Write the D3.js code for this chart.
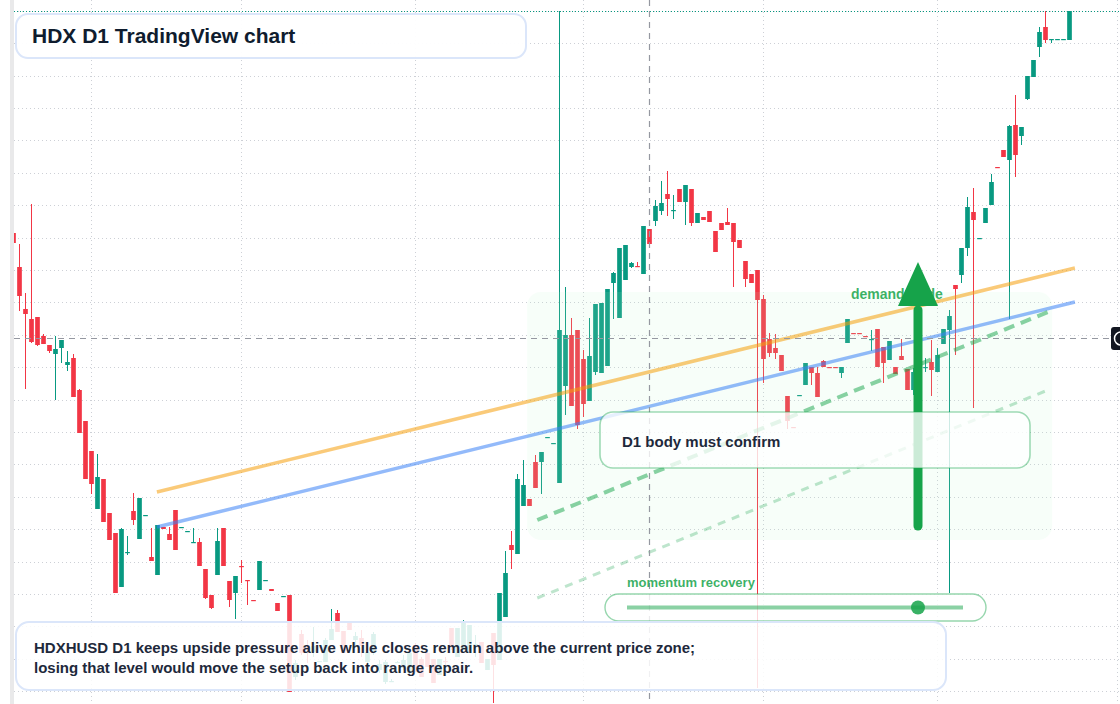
<!DOCTYPE html>
<html>
<head>
<meta charset="utf-8">
<script src="https://cdn.jsdelivr.net/npm/d3@7/dist/d3.min.js"></script>
<style>
  html, body { margin: 0; padding: 0; background: #ffffff; }
  svg { display: block; font-family: "Liberation Sans", Arial, Helvetica, sans-serif; }
</style>
</head>
<body>
<div id="chart"></div>
<script>
// HDXHUSD daily candles, prices in units of 0.00001 USD.
// first entry is the half hidden day at index -1
const firstIndex = -1;

const opens = [767,
  733, 691, 681, 683, 664, 655, 646, 652, 635, 642,
  610, 579, 549, 491, 521, 487, 467, 413, 447, 489,
  461, 484, 443, 425, 473, 466, 490, 472, 468, 457,
  458, 431, 405, 425, 472, 419, 407, 434, 420, 400,
  410, 419, 411, 397, 403, 405, 323, 366, 355, 348,
  338, 338, 360, 387, 369, 377, 360, 362, 338, 347,
  330, 318, 318, 337, 332, 327, 355, 341, 347, 341,
  325, 339, 372, 343, 350, 347, 355, 358, 330, 367,
  340, 383, 455, 446, 494, 501, 538, 538, 562, 556,
  517, 614, 665, 670, 641, 599, 628, 627, 634, 717,
  682, 720, 733, 734, 726, 771, 779, 789, 806, 789,
  811, 798, 811, 777, 783, 789, 769, 777, 778, 777,
  760, 739, 726, 730, 701, 661, 652, 645, 604, 573,
  604, 615, 633, 627, 639, 633, 633, 627, 657, 667,
  667, 664, 660, 671, 653, 640, 633, 644, 631, 610,
  628, 632, 638, 628, 656, 670, 715, 725, 752, 788,
  761, 777, 795, 833, 850, 840, 875, 864, 901, 923,
  953, 973, 960, 960, 960, 960];

const highs = [767,
  756, 707, 796, 683, 666, 655, 664, 660, 649, 646,
  611, 579, 549, 546, 521, 487, 467, 472, 464, 507,
  502, 485, 472, 475, 473, 473, 490, 473, 469, 472,
  462, 431, 405, 472, 472, 419, 424, 440, 420, 400,
  439, 420, 411, 397, 404, 405, 340, 370, 360, 373,
  339, 362, 391, 390, 369, 377, 368, 370, 350, 368,
  340, 340, 321, 339, 345, 350, 357, 343, 350, 341,
  341, 343, 372, 372, 380, 375, 365, 358, 341, 367,
  407, 449, 469, 526, 540, 501, 545, 548, 563, 557,
  989, 713, 682, 670, 650, 682, 696, 697, 711, 728,
  752, 755, 738, 738, 774, 771, 800, 819, 829, 805,
  811, 815, 811, 787, 783, 789, 769, 777, 792, 777,
  760, 739, 726, 730, 705, 667, 666, 645, 604, 573,
  605, 637, 633, 633, 640, 633, 633, 633, 681, 667,
  667, 664, 670, 671, 653, 659, 633, 661, 631, 632,
  635, 642, 660, 652, 671, 690, 715, 752, 803, 812,
  762, 792, 826, 833, 850, 875, 905, 873, 924, 940,
  973, 989, 961, 961, 961, 989];

const lows = [754,
  689, 611, 657, 654, 656, 647, 600, 637, 629, 603,
  567, 521, 506, 491, 478, 460, 407, 413, 445, 475,
  461, 484, 439, 425, 471, 460, 450, 472, 468, 457,
  434, 401, 391, 425, 434, 393, 381, 417, 395, 399,
  410, 419, 409, 389, 403, 308, 320, 345, 337, 343,
  338, 338, 360, 368, 347, 370, 352, 343, 335, 345,
  327, 316, 318, 337, 330, 325, 328, 323, 333, 317,
  325, 332, 350, 343, 350, 347, 343, 337, 330, 297,
  340, 383, 431, 446, 494, 494, 512, 506, 562, 556,
  517, 585, 594, 571, 583, 599, 625, 627, 634, 681,
  682, 720, 732, 733, 726, 756, 774, 785, 784, 781,
  798, 775, 774, 777, 780, 778, 748, 770, 775, 713,
  752, 713, 717, 312, 617, 643, 641, 629, 571, 572,
  604, 615, 615, 603, 633, 632, 632, 622, 657, 666,
  666, 663, 649, 633, 617, 640, 626, 640, 610, 605,
  615, 628, 604, 628, 656, 407, 645, 717, 744, 592,
  761, 777, 795, 832, 843, 681, 823, 855, 900, 923,
  943, 957, 957, 960, 960, 960];

const closes = [757,
  704, 686, 658, 655, 656, 649, 651, 660, 638, 603,
  567, 521, 516, 523, 478, 460, 407, 471, 448, 480,
  502, 485, 439, 475, 471, 460, 450, 473, 469, 458,
  434, 402, 392, 459, 434, 400, 424, 433, 419, 399,
  439, 420, 409, 389, 404, 308, 337, 347, 350, 354,
  339, 360, 371, 368, 347, 370, 364, 354, 348, 366,
  336, 338, 319, 338, 340, 347, 330, 323, 333, 317,
  341, 338, 353, 372, 378, 375, 356, 337, 341, 335,
  407, 427, 450, 521, 515, 494, 512, 548, 563, 557,
  670, 665, 594, 575, 596, 644, 696, 697, 711, 727,
  752, 755, 737, 733, 774, 756, 794, 797, 801, 790,
  798, 815, 777, 787, 780, 778, 748, 770, 775, 758,
  752, 721, 717, 700, 641, 647, 647, 629, 579, 572,
  605, 637, 627, 603, 633, 632, 632, 633, 681, 666,
  666, 663, 661, 633, 637, 659, 626, 640, 610, 628,
  620, 633, 630, 645, 671, 684, 711, 752, 793, 780,
  762, 792, 818, 832, 843, 874, 845, 873, 924, 940,
  968, 960, 961, 961, 961, 989];

// horizontal grid (price) and vertical grid (bar index of month starts)
const gridPrices = [989, 957, 924, 892, 860, 827, 795, 762, 730, 698, 665,
  633, 600, 568, 536, 503, 471, 438, 406, 374, 341, 309];
const monthStarts = [12, 37, 66, 94, 124, 153, 183];

const crosshair = { index: 105, price: 662 };

// drawings: [bar index, price]
const supportOrange = [[22.9, 508], [175.9, 732]];
const supportBlue = [[22.9, 473], [175.9, 698]];
const pathDashed = [[86.3, 480], [171.4, 688]];
const pathFaint = [[86.3, 402], [171.4, 610]];
const demandZone = { from: 84.6, to: 172.1, low: 460, high: 708 };
const upArrow = { index: 149.75, from: 474, base: 694, tip: 738 };
const momentumValue = 0.866;

const width = 1120;
const height = 704;
const green = '#089981';
const red = '#f23645';

const x = d3.scaleLinear().domain([0, 175]).range([19.5, 1069.5]);
const y = d3.scaleLinear().domain([296, 1000]).range([height, 0]);
const step = x(1) - x(0);
const bodyW = step * 0.78;

const candles = opens.map((o, i) => ({
    i: i + firstIndex, o: o, h: highs[i], l: lows[i], c: closes[i]
}));

const svg = d3.select('#chart')
    .append('svg')
    .attr('width', width)
    .attr('height', height);

svg.append('defs').append('clipPath')
    .attr('id', 'plot-clip')
    .append('rect')
    .attr('x', 14).attr('y', 0)
    .attr('width', width - 14).attr('height', height);

svg.append('rect')
    .attr('x', 10).attr('y', 0)
    .attr('width', 4).attr('height', height)
    .attr('fill', '#e9e9ea');

const plot = svg.append('g').attr('clip-path', 'url(#plot-clip)');

// grid
plot.append('g')
    .selectAll('line')
    .data(gridPrices)
    .enter()
    .append('line')
    .attr('x1', 14).attr('x2', width)
    .attr('y1', d => Math.round(y(d)) + 0.5)
    .attr('y2', d => Math.round(y(d)) + 0.5)
    .attr('stroke', '#cdd0d6')
    .attr('stroke-dasharray', '1,3');

plot.append('g')
    .selectAll('line')
    .data(monthStarts)
    .enter()
    .append('line')
    .attr('x1', d => Math.floor(x(d)) + 0.5)
    .attr('x2', d => Math.floor(x(d)) + 0.5)
    .attr('y1', 0).attr('y2', height)
    .attr('stroke', '#cdd0d6')
    .attr('stroke-dasharray', '1,3');

// candles
const bars = plot.append('g')
    .selectAll('g')
    .data(candles)
    .enter()
    .append('g')
    .attr('fill', d => d.c >= d.o ? green : red)
    .attr('stroke', d => d.c >= d.o ? green : red);

bars.append('line')
    .attr('x1', d => x(d.i)).attr('x2', d => x(d.i))
    .attr('y1', d => y(d.h)).attr('y2', d => y(d.l))
    .attr('stroke-width', 1);

bars.append('rect')
    .attr('stroke', 'none')
    .attr('x', d => x(d.i) - bodyW / 2)
    .attr('width', bodyW)
    .attr('y', d => y(Math.max(d.o, d.c)))
    .attr('height', d => Math.max(1.2, Math.abs(y(d.o) - y(d.c))));

// last price line
const lastClose = closes[closes.length - 1];
plot.append('line')
    .attr('x1', 14).attr('x2', width)
    .attr('y1', Math.round(y(lastClose)) + 0.5)
    .attr('y2', Math.round(y(lastClose)) + 0.5)
    .attr('stroke', green)
    .attr('stroke-width', 1.2)
    .attr('stroke-dasharray', '1,2');

// demand zone
plot.append('rect')
    .attr('x', x(demandZone.from))
    .attr('y', y(demandZone.high))
    .attr('width', x(demandZone.to) - x(demandZone.from))
    .attr('height', y(demandZone.low) - y(demandZone.high))
    .attr('rx', 14)
    .attr('fill', '#bbf7d0')
    .attr('fill-opacity', 0.12);

const line = d3.line().x(d => x(d[0])).y(d => y(d[1]));

plot.append('path')
    .attr('d', line(supportOrange))
    .attr('fill', 'none')
    .attr('stroke', '#f59e0b')
    .attr('stroke-opacity', 0.55)
    .attr('stroke-width', 3.5);

plot.append('path')
    .attr('d', line(supportBlue))
    .attr('fill', 'none')
    .attr('stroke', '#3b82f6')
    .attr('stroke-opacity', 0.55)
    .attr('stroke-width', 3.5);

plot.append('path')
    .attr('d', line(pathDashed))
    .attr('fill', 'none')
    .attr('stroke', '#16a34a')
    .attr('stroke-opacity', 0.5)
    .attr('stroke-width', 4)
    .attr('stroke-dasharray', '11,7');

plot.append('path')
    .attr('d', line(pathFaint))
    .attr('fill', 'none')
    .attr('stroke', '#16a34a')
    .attr('stroke-opacity', 0.28)
    .attr('stroke-width', 3)
    .attr('stroke-dasharray', '8,7');

// crosshair
plot.append('line')
    .attr('x1', 14).attr('x2', 1111)
    .attr('y1', Math.round(y(crosshair.price)) + 0.5)
    .attr('y2', Math.round(y(crosshair.price)) + 0.5)
    .attr('stroke', '#9598a1')
    .attr('stroke-width', 1.2)
    .attr('stroke-dasharray', '6,5');

plot.append('line')
    .attr('x1', Math.floor(x(crosshair.index)) + 0.5)
    .attr('x2', Math.floor(x(crosshair.index)) + 0.5)
    .attr('y1', 0).attr('y2', height)
    .attr('stroke', '#9598a1')
    .attr('stroke-width', 1.2)
    .attr('stroke-dasharray', '6,5');

// demand label sits under the arrow
svg.append('text')
    .attr('x', 851)
    .attr('y', 299)
    .attr('fill', '#16a34a')
    .attr('fill-opacity', 0.85)
    .style('font-size', '14px')
    .style('font-weight', 'bold')
    .text('demand trade');

// arrow
const ax = x(upArrow.index);
svg.append('line')
    .attr('x1', ax).attr('x2', ax)
    .attr('y1', y(upArrow.from))
    .attr('y2', y(upArrow.base) + 4)
    .attr('stroke', '#16a34a')
    .attr('stroke-width', 9)
    .attr('stroke-linecap', 'round');

svg.append('path')
    .attr('d', `M${ax - 20},${y(upArrow.base)} L${ax + 20},${y(upArrow.base)} L${ax},${y(upArrow.tip)} Z`)
    .attr('fill', '#16a34a');

// annotation boxes
svg.append('rect')
    .attr('x', 600).attr('y', 412)
    .attr('width', 430).attr('height', 56)
    .attr('rx', 13)
    .attr('fill', '#ffffff')
    .attr('fill-opacity', 0.78)
    .attr('stroke', '#16a34a')
    .attr('stroke-opacity', 0.4)
    .attr('stroke-width', 1.6);

svg.append('text')
    .attr('x', 622)
    .attr('y', 447)
    .attr('fill', '#1e293b')
    .style('font-size', '15px')
    .style('font-weight', 'bold')
    .text('D1 body must confirm');

svg.append('text')
    .attr('x', 627)
    .attr('y', 587)
    .attr('fill', '#16a34a')
    .attr('fill-opacity', 0.85)
    .style('font-size', '13px')
    .style('font-weight', 'bold')
    .text('momentum recovery');

svg.append('rect')
    .attr('x', 605).attr('y', 594)
    .attr('width', 381).attr('height', 27)
    .attr('rx', 13.5)
    .attr('fill', '#ffffff')
    .attr('fill-opacity', 0.8)
    .attr('stroke', '#16a34a')
    .attr('stroke-opacity', 0.45)
    .attr('stroke-width', 1.4);

const slider = d3.scaleLinear().domain([0, 1]).range([627, 963]);

svg.append('line')
    .attr('x1', slider(0)).attr('x2', slider(1))
    .attr('y1', 607.5).attr('y2', 607.5)
    .attr('stroke', '#16a34a')
    .attr('stroke-opacity', 0.5)
    .attr('stroke-width', 4);

svg.append('circle')
    .attr('cx', slider(momentumValue))
    .attr('cy', 607.5)
    .attr('r', 7)
    .attr('fill', '#16a34a')
    .attr('fill-opacity', 0.85);

svg.append('rect')
    .attr('x', 16).attr('y', 622)
    .attr('width', 930).attr('height', 68)
    .attr('rx', 13)
    .attr('fill', '#ffffff')
    .attr('fill-opacity', 0.86)
    .attr('stroke', '#dbe6fa')
    .attr('stroke-width', 2);

const note = svg.append('text')
    .attr('fill', '#1e293b')
    .style('font-size', '15px')
    .style('font-weight', 'bold');

note.append('tspan')
    .attr('x', 34).attr('y', 653)
    .text('HDXHUSD D1 keeps upside pressure alive while closes remain above the current price zone;');

note.append('tspan')
    .attr('x', 34).attr('y', 673)
    .text('losing that level would move the setup back into range repair.');

svg.append('rect')
    .attr('x', 16).attr('y', 14)
    .attr('width', 510).attr('height', 44)
    .attr('rx', 12)
    .attr('fill', '#ffffff')
    .attr('fill-opacity', 0.96)
    .attr('stroke', '#dbe6fa')
    .attr('stroke-width', 2);

svg.append('text')
    .attr('x', 32)
    .attr('y', 43)
    .attr('fill', '#0f1c2e')
    .style('font-size', '21px')
    .style('font-weight', 'bold')
    .text('HDX D1 TradingView chart');

// crosshair price tag at the right edge
svg.append('rect')
    .attr('x', 1111).attr('y', Math.round(y(crosshair.price)) - 11)
    .attr('width', 20).attr('height', 23)
    .attr('rx', 3)
    .attr('fill', '#131722');

svg.append('circle')
    .attr('cx', 1121).attr('cy', Math.round(y(crosshair.price)) + 0.5)
    .attr('r', 6.5)
    .attr('fill', 'none')
    .attr('stroke', '#ffffff')
    .attr('stroke-width', 1.5);
</script>
</body>
</html>
